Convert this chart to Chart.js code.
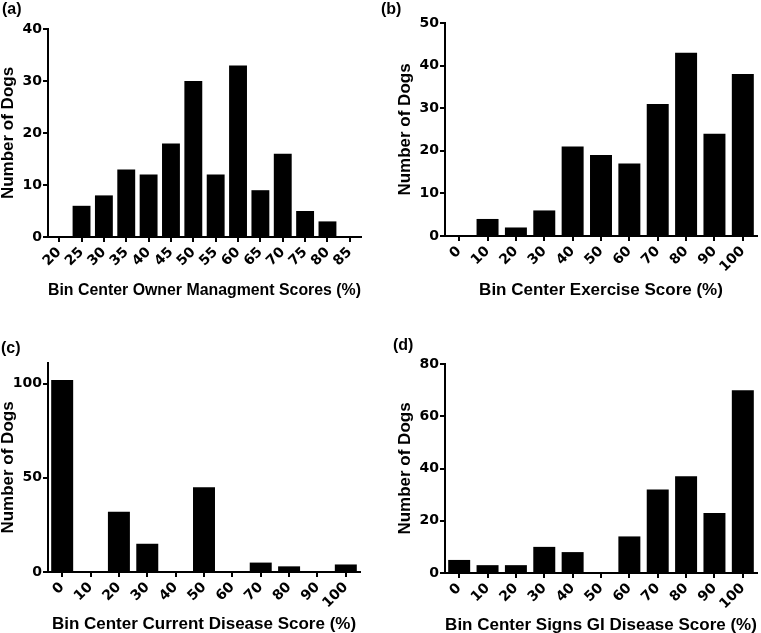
<!DOCTYPE html>
<html>
<head>
<meta charset="utf-8">
<script src="https://cdn.jsdelivr.net/npm/chart.js@4/dist/chart.umd.min.js"></script>
<style>
  body { margin: 0; background: #fff; width: 761px; height: 633px; position: relative; overflow: hidden; }
  canvas { position: absolute; }
  .tag { position: absolute; font: bold 16px "Liberation Sans", Arial, sans-serif; color: #000; }
</style>
</head>
<body>
<canvas id="chartA" width="380" height="305" style="left:0;top:0"></canvas>
<canvas id="chartB" width="381" height="305" style="left:380px;top:0"></canvas>
<canvas id="chartC" width="380" height="328" style="left:0;top:305px"></canvas>
<canvas id="chartD" width="381" height="328" style="left:380px;top:305px"></canvas>
<div class="tag" style="left:2px;top:0">(a)</div>
<div class="tag" style="left:381px;top:0">(b)</div>
<div class="tag" style="left:1px;top:339px">(c)</div>
<div class="tag" style="left:393px;top:336px">(d)</div>
<script>
// bin centres (%)
const binsA = ['20', '25', '30', '35', '40', '45', '50', '55', '60', '65', '70', '75', '80', '85'];
const binsTen = ['0', '10', '20', '30', '40', '50', '60', '70', '80', '90', '100'];

// number of dogs per bin
const ownerMgmt = [0, 6, 8, 13, 12, 18, 30, 12, 33, 9, 16, 5, 3, 0];
const exercise = [0, 4, 2, 6, 21, 19, 17, 31, 43, 24, 38];
const currentDisease = [102, 0, 32, 15, 0, 45, 0, 5, 3, 0, 4];
const giDisease = [5, 3, 3, 10, 8, 0, 14, 32, 37, 23, 70];

const FONT = '"Liberation Sans", Arial, sans-serif';
const TICK_FONT = '"DejaVu Sans", sans-serif';

function makeChart(id, labels, values, cfg) {
  const ctx = document.getElementById(id).getContext('2d');
  return new Chart(ctx, {
    type: 'bar',
    data: {
      labels: labels,
      datasets: [{
        data: values,
        backgroundColor: '#000',
        borderWidth: 0,
        barPercentage: cfg.barPct,
        categoryPercentage: 1
      }]
    },
    options: {
      responsive: false,
      animation: false,
      layout: { padding: { top: cfg.top, right: cfg.right, left: 0, bottom: 0 } },
      plugins: { legend: { display: false }, tooltip: { enabled: false } },
      scales: {
        x: {
          afterFit: s => { s.height = cfg.xH; },
          grid: { offset: false, drawOnChartArea: false, color: '#000', lineWidth: 2, tickLength: 5 },
          border: { color: '#000', width: 2 },
          ticks: { color: '#000', font: { family: TICK_FONT, size: 14, weight: 'bold' }, minRotation: 45, maxRotation: 45, padding: 2, autoSkip: false },
          title: { display: true, text: cfg.xTitle, color: '#000', font: { family: FONT, size: 17, weight: 'bold', lineHeight: 1 }, padding: { top: 0, bottom: cfg.xPad } }
        },
        y: {
          min: 0,
          max: cfg.max,
          afterFit: s => { s.width = cfg.yW; },
          afterBuildTicks: s => { s.ticks = s.ticks.filter(t => cfg.yTicks.includes(t.value)); },
          grid: { drawOnChartArea: false, color: '#000', lineWidth: 2, tickLength: 5 },
          border: { color: '#000', width: 2 },
          ticks: { stepSize: cfg.step, color: '#000', font: { family: TICK_FONT, size: 14, weight: 'bold' }, padding: 1 },
          title: { display: true, text: 'Number of Dogs', color: '#000', font: { family: FONT, size: 17, weight: 'bold', lineHeight: 1 }, padding: { top: cfg.yPad, bottom: 0 } }
        }
      }
    }
  });
}

makeChart('chartA', binsA, ownerMgmt, {
  barPct: 0.8, top: 29, right: 19, xH: 68, yW: 48, max: 40, step: 10,
  yTicks: [0, 10, 20, 30, 40], xTitle: 'Bin Center Owner Managment Scores (%)', xPad: 6, yPad: 0
});
makeChart('chartB', binsTen, exercise, {
  barPct: 0.775, top: 23, right: 4, xH: 69, yW: 65, max: 50, step: 10,
  yTicks: [0, 10, 20, 30, 40, 50], xTitle: 'Bin Center Exercise Score (%)', xPad: 6, yPad: 17
});
makeChart('chartC', binsTen, currentDisease, {
  barPct: 0.775, top: 58, right: 20, xH: 61, yW: 48, max: 111, step: 50,
  yTicks: [0, 50, 100], xTitle: 'Bin Center Current Disease Score (%)', xPad: 0, yPad: 0
});
makeChart('chartD', binsTen, giDisease, {
  barPct: 0.775, top: 59, right: 4, xH: 60, yW: 65, max: 80, step: 20,
  yTicks: [0, 20, 40, 60, 80], xTitle: 'Bin Center Signs GI Disease Score (%)', xPad: -1, yPad: 17
});
</script>
</body>
</html>
